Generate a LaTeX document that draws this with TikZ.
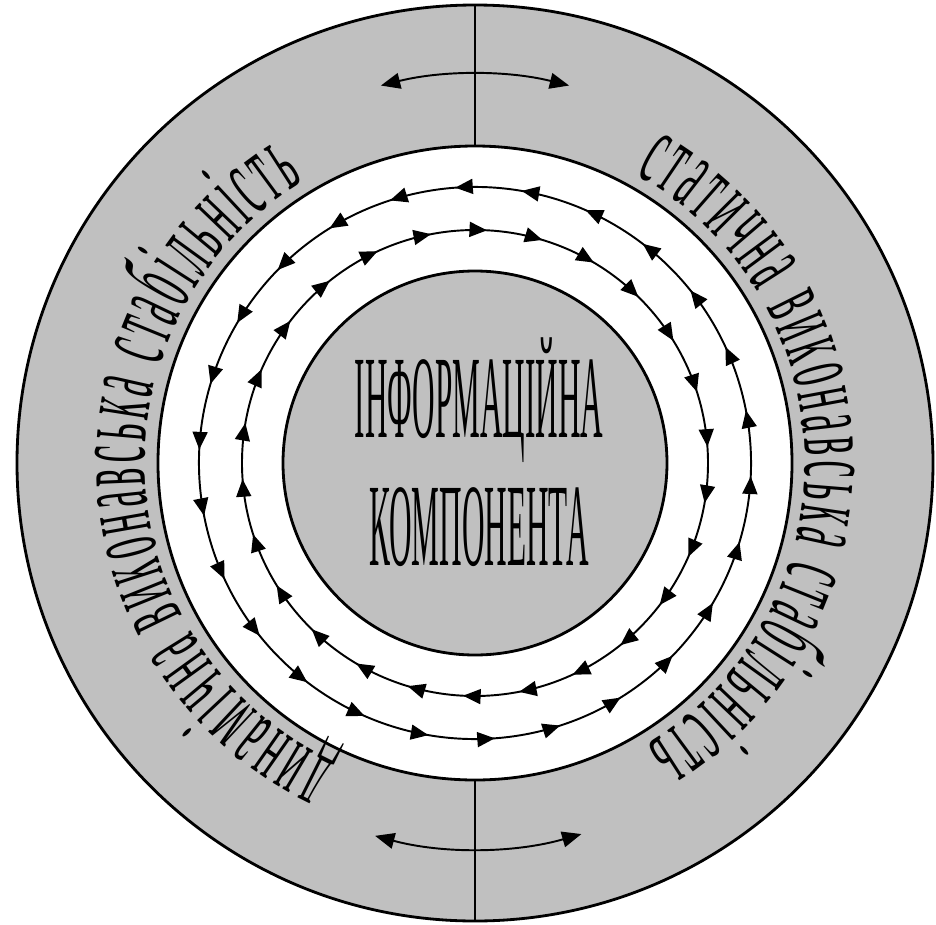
\documentclass[tikz,border=0pt]{standalone}
\usepackage{fontspec}
\setmainfont{Liberation Serif}
\usetikzlibrary{arrows.meta,decorations.markings,decorations.text}
\definecolor{ringgrey}{HTML}{C0C0C0}
\newfontfamily\ringfont[FakeStretch=0.36]{Liberation Serif}
\newfontfamily\infofont[FakeStretch=0.265]{Liberation Serif}
\newcommand\ringstyle{\ringfont\fontsize{60pt}{60pt}\selectfont}
\newcommand\infostyle{\infofont\fontsize{67pt}{73pt}\selectfont}

\begin{document}
\begin{tikzpicture}[x=0.02cm,y=0.02cm,>={Triangle[length=11pt,width=9pt]},
  disc/.style={draw,line width=1.6pt},
  flowring/.style={line width=1.1pt,postaction={decorate},
    decoration={markings,mark=between positions 0 and 0.99 step 0.03846 with {\arrow{Triangle[length=10pt,width=8.5pt]}}}},
  ringtext/.style={decorate,decoration={text along path,text align={fit to path,right indent=4pt},text={|\ringstyle|#1}}}]
\useasboundingbox (-475,-461) rectangle (461,463);
\coordinate (c) at (0,0);
% discs
\fill[ringgrey] (c) circle (458);
\draw[disc] (c) circle (458);
\draw[disc,fill=white] (c) circle (317);
\draw[disc,fill=ringgrey] (c) circle (192);
% split lines
\draw[line width=1.6pt] (c) ++(0,317) -- ++(0,141);
\draw[line width=1.6pt] (c) ++(0,-317) -- ++(0,-141);
% swing arrows
\draw[<->,line width=1.1pt] (c) ++(104:389) arc[start angle=104,end angle=76,radius=389];
\draw[<->,line width=1.1pt] (c) ++(255:386) arc[start angle=255,end angle=286,radius=386];
% flow rings
\draw[flowring] (c) ++(11:276) arc[start angle=11,end angle=371,radius=276];
\draw[flowring] (c) ++(4:233) arc[start angle=4,end angle=-356,radius=233];
% ring labels
\path[ringtext={статична виконавська стабільність}] (c) ++(61:330) arc[start angle=61,end angle=-60,radius=330];
\path[ringtext={динамічна виконавська стабільність}] (c) ++(245:330) arc[start angle=245,end angle=120,radius=330];
\node[font=\infostyle,align=center,inner sep=0pt] (info) at (4,11) {ІНФОРМАЦІЙНА\\КОМПОНЕНТА};
\end{tikzpicture}
\end{document}
